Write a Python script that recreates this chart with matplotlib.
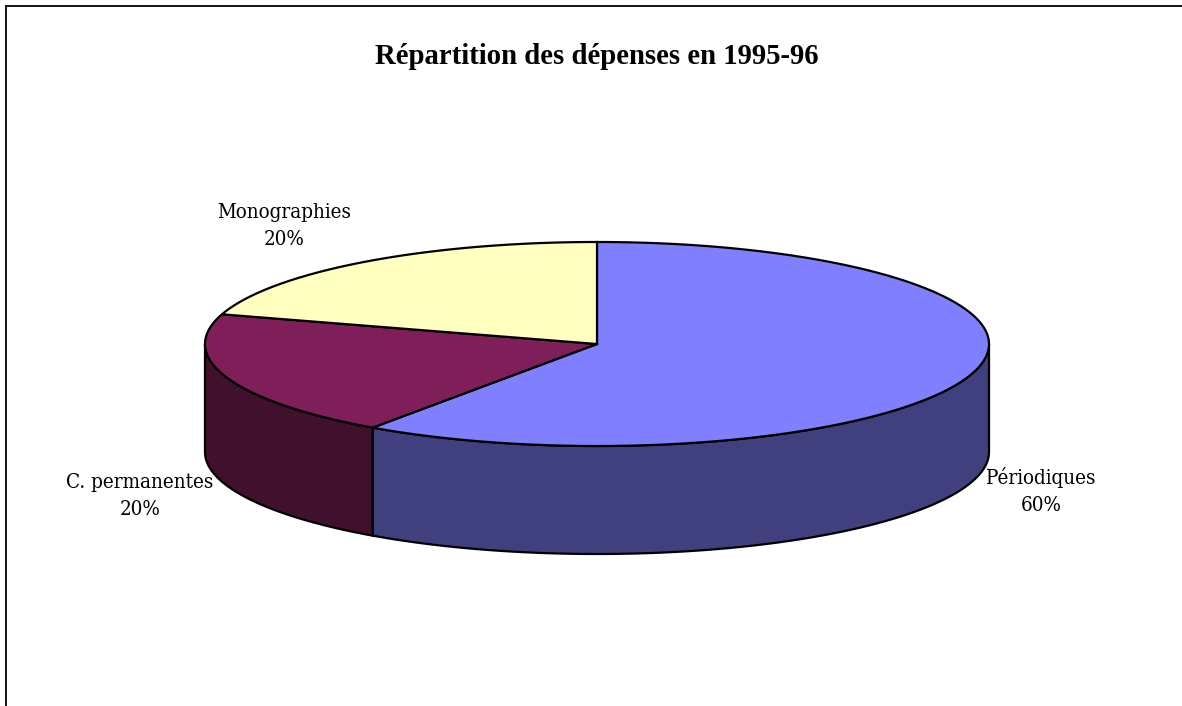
import numpy as np
import matplotlib
matplotlib.use('Agg')
import matplotlib.pyplot as plt

titre = 'Répartition des dépenses en 1995-96'
postes = ['Périodiques', 'C. permanentes', 'Monographies']
parts = [59.7, 20.0, 20.3]
pourcent = ['60%', '20%', '20%']
c_dessus = ['#8080FF', '#7F1F5A', '#FFFFC0']
c_cote = ['#40407F', '#40102D', '#80805F']

W, H = 1182, 706
cx, cy = 597, 344   # centre du disque, en pixels
rx, ry = 392, 102
ep = 108            # epaisseur


def bord(a, b, dy=0):
    t = np.radians(np.linspace(a, b, 200))
    return cx + rx*np.cos(t), cy - ry*np.sin(t) + dy


fig = plt.figure(figsize=(W/100, H/100), dpi=100)
ax = fig.add_axes([0, 0, 1, 1])
ax.set_xlim(0, W)
ax.set_ylim(H, 0)
ax.axis('off')

# cadre: seulement gauche et haut
ax.plot([5.5, 5.5, W], [H, 5.5, 5.5], c='black', lw=1.3, solid_joinstyle='miter')

# angles des secteurs, sens horaire depuis le haut
bornes = 90 - 3.6*np.cumsum([0] + parts)

# cotes visibles (moitie basse du disque: de 180 a 360 degres)
for i in range(len(parts)):
    a, b = bornes[i], bornes[i+1]
    t1 = min(a, b) % 360
    t2 = t1 + abs(a-b)
    debut = max(t1, 180)
    fin = min(t2, 360)
    if fin <= debut:
        continue
    x, y = bord(debut, fin)
    x2, y2 = bord(fin, debut, ep)
    ax.fill(np.r_[x, x2], np.r_[y, y2], fc=c_cote[i], ec='black', lw=1.6, zorder=2)

# dessus
for i in range(len(parts)):
    x, y = bord(bornes[i], bornes[i+1])
    ax.fill(np.r_[cx, x], np.r_[cy, y], fc=c_dessus[i], ec='black', lw=1.6, zorder=3)

ax.text(597, 56, titre, ha='center', va='center', fontsize=20.7, fontweight='bold',
        family='Liberation Serif', color='black')

pos = [(1041, 491), (140, 496), (284, 226)]
for i in range(len(parts)):
    ax.text(pos[i][0], pos[i][1], postes[i] + '\n' + pourcent[i], ha='center', va='center',
            fontsize=14.8, family='DejaVu Serif', stretch='condensed', color='black', linespacing=1.5)

plt.savefig('out.png', dpi=100)
